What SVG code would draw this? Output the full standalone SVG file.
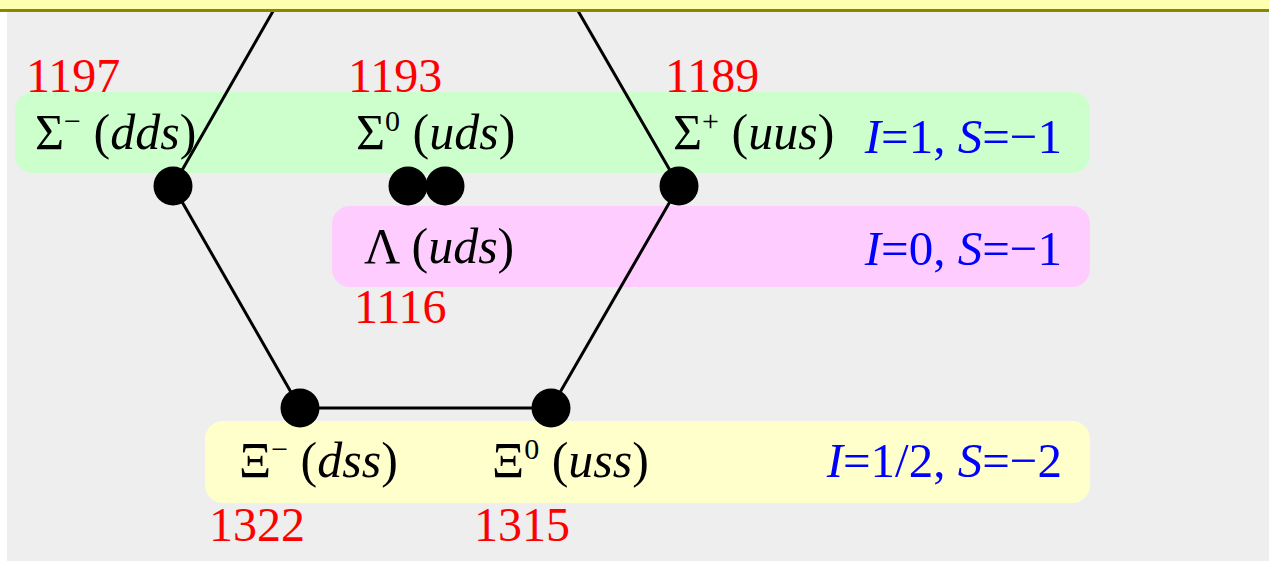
<svg xmlns="http://www.w3.org/2000/svg" width="1269" height="561" viewBox="0 0 1269 561">
<style>
text{font-family:'Liberation Serif','Times New Roman',serif;font-size:48px;}
.lab{font-size:50px;}
.m{fill:#ff0000;}
.n{fill:#000000;}
.q{fill:#0000ff;font-size:49px;}
.i{font-style:italic;}
.sup{font-size:30px;}
.dot{fill:#000000;}
.edge{stroke:#000000;stroke-width:3;fill:none;}
</style>
<rect x="0" y="0" width="1269" height="561" fill="#ffffff"/>
<rect x="7" y="11" width="1262" height="550" fill="#eeeeee"/>
<g id="bands">
<rect x="15" y="92" width="1075" height="81" rx="18" fill="#ccffcc"/>
<rect x="332" y="206" width="758" height="81" rx="18" fill="#ffccff"/>
<rect x="205" y="421" width="885" height="82" rx="18" fill="#ffffcc"/>
</g>
<g id="connectors">
<polyline class="edge" points="300,-36 173,186 300,408 551,408 679,186 551,-36"/>
</g>
<g id="sigma-minus">
<circle class="dot" cx="173" cy="186" r="19.5"/>
<text class="m" x="26" y="92">1197</text>
<text class="n lab" x="35" y="149">Σ<tspan class="sup" dy="-18">−</tspan><tspan dy="18"> (</tspan><tspan class="i">dds</tspan>)</text>
</g>
<g id="sigma-zero">
<circle class="dot" cx="408" cy="186" r="19.5"/>
<text class="m" x="348" y="92">1193</text>
<text class="n lab" x="356" y="149">Σ<tspan class="sup" dy="-18">0</tspan><tspan dy="18"> (</tspan><tspan class="i">uds</tspan>)</text>
</g>
<g id="lambda">
<circle class="dot" cx="445" cy="186" r="19.5"/>
<text class="n lab" x="364" y="263">Λ (<tspan class="i">uds</tspan>)</text>
<text class="m" x="354" y="323">1116</text>
</g>
<g id="sigma-plus">
<circle class="dot" cx="679" cy="186" r="19.5"/>
<text class="m" x="665" y="92">1189</text>
<text class="n lab" x="673" y="149">Σ<tspan class="sup" dy="-18">+</tspan><tspan dy="18"> (</tspan><tspan class="i">uus</tspan>)</text>
</g>
<g id="xi-minus">
<circle class="dot" cx="300" cy="408" r="19.5"/>
<text class="n lab" x="239" y="477">Ξ<tspan class="sup" dy="-18">−</tspan><tspan dy="18"> (</tspan><tspan class="i">dss</tspan>)</text>
<text class="m" x="209" y="541">1322</text>
</g>
<g id="xi-zero">
<circle class="dot" cx="551" cy="408" r="19.5"/>
<text class="n lab" x="492" y="477">Ξ<tspan class="sup" dy="-18">0</tspan><tspan dy="18"> (</tspan><tspan class="i">uss</tspan>)</text>
<text class="m" x="474" y="541">1315</text>
</g>
<g id="labels">
<text class="q" x="1062" y="153" text-anchor="end"><tspan class="i">I</tspan>=1, <tspan class="i">S</tspan>=−1</text>
<text class="q" x="1062" y="265" text-anchor="end"><tspan class="i">I</tspan>=0, <tspan class="i">S</tspan>=−1</text>
<text class="q" x="1062" y="477" text-anchor="end"><tspan class="i">I</tspan>=1/2, <tspan class="i">S</tspan>=−2</text>
</g>
<g id="header">
<rect x="0" y="0" width="1269" height="9" fill="#ffffb0"/>
<rect x="0" y="9" width="1269" height="3" fill="#888800"/>
</g>
</svg>
